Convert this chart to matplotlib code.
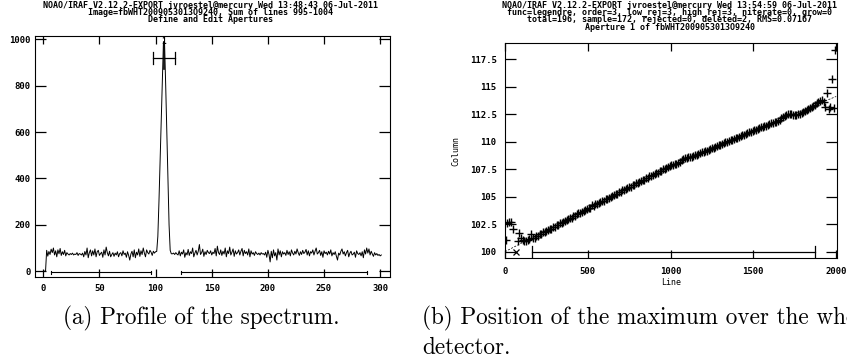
import numpy as np
import matplotlib
matplotlib.use('Agg')
import matplotlib.pyplot as plt
from matplotlib.ticker import FuncFormatter

plt.rcParams['font.family'] = 'DejaVu Sans Mono'
plt.rcParams['font.weight'] = 'bold'
plt.rcParams['font.size'] = 6

# --- (a) aperture profile: summed counts per column ---
profile = [0, 0, 90,
           65, 85, 72, 95, 80, 100, 70, 88, 62, 92, 75, 98, 68, 84, 72, 90, 66,
           80, 74, 70, 76, 72, 78, 70, 74, 72, 80, 68, 76, 74, 70, 78, 62, 85, 70, 100, 58,
           80, 92, 66, 88, 70, 96, 62, 84, 90, 68, 76, 82, 60, 92, 70, 104, 80, 66, 86, 62,
           72, 80, 64, 78, 70, 84, 62, 76, 80, 66, 88, 72, 78, 60, 84, 68, 48, 74, 86, 62,
           92, 58, 82, 70, 96, 64, 88, 72, 100, 78, 62, 92, 80, 74, 90, 82, 68, 86, 78, 84,
           85, 150, 300, 470, 640, 820, 990, 980, 800, 600, 400, 200, 90, 75,
           75, 78, 72, 80, 74, 70, 88, 66, 82, 74, 92, 60, 80, 70, 94, 68,
           84, 76, 100, 62, 78, 90, 70, 86, 115, 72, 80, 95, 64, 84, 72, 90, 80, 76, 88, 70,
           82, 76, 98, 66, 108, 80, 72, 92, 68, 86, 74, 100, 62, 88, 76, 104, 70, 82, 96, 64,
           88, 74, 80, 92, 70, 86, 98, 66, 90, 76, 84, 70, 96, 62, 88, 74, 80, 68, 84, 76,
           72, 78, 70, 80, 74, 76, 70, 82, 60, 90, 72, 40, 86, 58, 92, 66, 80, 48, 96, 70,
           88, 62, 84, 74, 80, 68, 90, 72, 84, 66, 92, 78, 70, 86, 74, 96, 80, 68, 84, 72,
           90, 76, 82, 94, 70, 88, 66, 84, 78, 92, 70, 86, 100, 74, 80, 90, 68, 84, 60, 88,
           76, 82, 70, 86, 74, 92, 66, 80, 72, 84, 64, 48, 78, 70, 86, 96, 74, 84, 66, 80,
           90, 62, 78, 86, 70, 74, 82, 60, 88, 76, 72, 80, 66, 84, 58, 92, 74, 100, 78, 96,
           70, 86, 74, 64, 80, 70, 76, 68, 72, 66, 70]
columns_a = np.arange(1, len(profile) + 1)

aperture_center = 107.8
aperture_width = (98, 117.3)
aperture_level = 918
background = [(7, 96), (123, 288)]

title_a = ["NOAO/IRAF V2.12.2-EXPORT jvroestel@mercury Wed 13:48:43 06-Jul-2011",
           "Image=fbWHT2009053013O9240, Sum of lines 995-1004",
           "Define and Edit Apertures"]

# --- (b) trace: column of the maximum for each line ---
trace_cols = [101.1, 102.6, 102.7, 102.7, 102.05, 99.0, 100.0, 101.0, 101.7, 101.2,
              101.1, 101.0, 100.95, 101.1, 101.15, 101.6,
              101.25, 101.28, 101.42, 101.45, 101.58, 101.62, 101.75, 101.78, 101.9, 101.95,
              102.08, 102.1, 102.24, 102.28, 102.4, 102.44, 102.58, 102.6, 102.74, 102.76,
              102.9, 102.93, 103.08, 103.1, 103.24, 103.26, 103.4, 103.47, 103.55, 103.6,
              103.73, 103.76, 103.9,
              103.96, 104.0, 104.2, 104.16, 104.3, 104.33, 104.45, 104.48, 104.6, 104.64,
              104.76, 104.79, 104.92, 104.95, 105.08, 105.12, 105.24, 105.27, 105.4, 105.43,
              105.56, 105.6, 105.72, 105.74, 105.88, 105.92, 106.04, 106.07, 106.2, 106.22,
              106.36, 106.38, 106.52, 106.55, 106.68, 106.7, 106.84, 106.86, 107.0, 107.02,
              107.16, 107.19, 107.32, 107.34, 107.48, 107.5, 107.64, 107.66, 107.78,
              107.85, 107.88, 107.98, 108.01, 108.1, 108.16, 108.35, 108.45, 108.52, 108.55,
              108.58, 108.6, 108.63, 108.68, 108.76, 108.8, 108.89, 108.93, 109.02, 109.06,
              109.15, 109.19, 109.28, 109.32, 109.41, 109.46, 109.54, 109.58, 109.67, 109.72,
              109.8, 109.85, 109.93, 109.98, 110.06, 110.1, 110.19, 110.24, 110.32, 110.37,
              110.46, 110.5, 110.59, 110.63, 110.72, 110.76, 110.85, 110.89, 110.98,
              111.03, 111.08, 111.16, 111.2, 111.29, 111.33, 111.41, 111.45, 111.53, 111.57,
              111.65, 111.7, 111.78, 111.82, 111.9, 111.98, 112.1, 112.25, 112.35, 112.42,
              112.48, 112.5, 112.47, 112.45, 112.42, 112.45, 112.5, 112.52, 112.6, 112.7,
              112.8, 112.85, 112.95, 113.05, 113.15, 113.25, 113.35, 113.5, 113.6,
              113.7, 113.8, 113.6, 113.1, 114.4, 113.0, 113.1, 115.65, 113.05, 118.3]
trace_lines = np.linspace(5, 1995, len(trace_cols))
deleted = [5, 6]

fit_lines = [0, 250, 500, 750, 1000, 1250, 1500, 1750, 2000]
fit_cols = [100.0, 101.95, 103.9, 105.85, 107.75, 109.45, 111.0, 112.55, 114.1]
sample_range = (165, 1870)

title_b = ["NOAO/IRAF V2.12.2-EXPORT jvroestel@mercury Wed 13:54:59 06-Jul-2011",
           "func=legendre, order=3, low_rej=3, high_rej=3, niterate=0, grow=0",
           "total=196, sample=172, rejected=0, deleted=2, RMS=0.07167",
           "Aperture 1 of fbWHT2009053013O9240"]


def iraf_axes(ax, xpad, ypad):
    ax.tick_params(direction='in', top=True, right=True, length=6, width=0.9,
                   labelsize=6.5, pad=xpad, axis='x')
    ax.tick_params(direction='in', top=True, right=True, length=8, width=0.9,
                   labelsize=6.5, pad=ypad, axis='y')
    for s in ax.spines.values():
        s.set_linewidth(0.8)


fig = plt.figure(figsize=(8.47, 3.62), dpi=100)

# (a)
ax1 = fig.add_axes([0.0413, 0.2348, 0.4191, 0.6658])
ax1.plot(columns_a, profile, color='black', lw=0.7)
ax1.plot(aperture_width, [aperture_level] * 2, color='black', lw=0.9)
for xe in aperture_width:
    ax1.plot([xe, xe], [aperture_level - 25, aperture_level + 25], color='black', lw=0.9)
ax1.plot([aperture_center] * 2, [870, 985], color='black', lw=1.2)
ax1.text(aperture_center - 0.8, 990, '1', ha='center', va='center', fontsize=5.5)
for x0, x1 in background:
    ax1.plot([x0, x1], [-5, -5], color='black', lw=0.8)
    for xe in (x0, x1):
        ax1.plot([xe, xe], [-13, 3], color='black', lw=0.8)
ax1.set_xlim(-7.4, 308.7)
ax1.set_ylim(-25, 1014)
ax1.set_xticks([0, 50, 100, 150, 200, 250, 300])
ax1.set_yticks([0, 200, 400, 600, 800, 1000])
iraf_axes(ax1, 5, 3)
fig.text(0.2485, 1 - 5 / 362, title_a[0], ha='center', va='center', fontsize=6)
fig.text(0.2485, 1 - 12.5 / 362, title_a[1], ha='center', va='center', fontsize=6)
fig.text(0.2485, 1 - 20 / 362, title_a[2], ha='center', va='center', fontsize=6)

# (b)
ax2 = fig.add_axes([0.5962, 0.2865, 0.3916, 0.5939])
keep = [i for i in range(len(trace_cols)) if i not in deleted]
ax2.plot(trace_lines[keep], np.array(trace_cols)[keep], '+', color='black',
         ms=6, mew=1.0)
ax2.plot(trace_lines[deleted], np.array(trace_cols)[deleted], 'x', color='black',
         ms=5, mew=0.9)
ax2.plot(fit_lines, fit_cols, color='black', lw=0.5, ls=(0, (3, 2)))
ax2.plot(sample_range, [100, 100], color='black', lw=0.9)
for xe in sample_range:
    ax2.plot([xe, xe], [99.55, 100.5], color='black', lw=0.9)
ax2.set_xlim(0, 2003)
ax2.set_ylim(99.4, 118.93)
ax2.set_xticks([0, 500, 1000, 1500, 2000])
ax2.set_yticks([100, 102.5, 105, 107.5, 110, 112.5, 115, 117.5])
ax2.yaxis.set_major_formatter(FuncFormatter(lambda v, p: '%g' % v))
iraf_axes(ax2, 6, 6)
ax2.set_xlabel('Line', fontsize=6, labelpad=2)
ax2.set_ylabel('Column', fontsize=6, labelpad=7)
for k, line in enumerate(title_b):
    fig.text(0.791, 1 - (5 + 7.5 * k) / 362, line, ha='center', va='center', fontsize=6)

# LaTeX subcaptions (the second one runs past the right edge, as in the page crop)
cap = dict(family='cmr10', weight='normal', size=16.7)
fig.text(0.074, 1 - 318 / 362, '(a) Profile of the spectrum.', ha='left',
         va='center', fontdict=cap)
fig.text(0.498, 1 - 318 / 362, '(b) Position of the maximum over the whole',
         ha='left', va='center', fontdict=cap)
fig.text(0.498, 1 - 348 / 362, 'detector.', ha='left', va='center', fontdict=cap)

fig.savefig('out.png', dpi=100)
